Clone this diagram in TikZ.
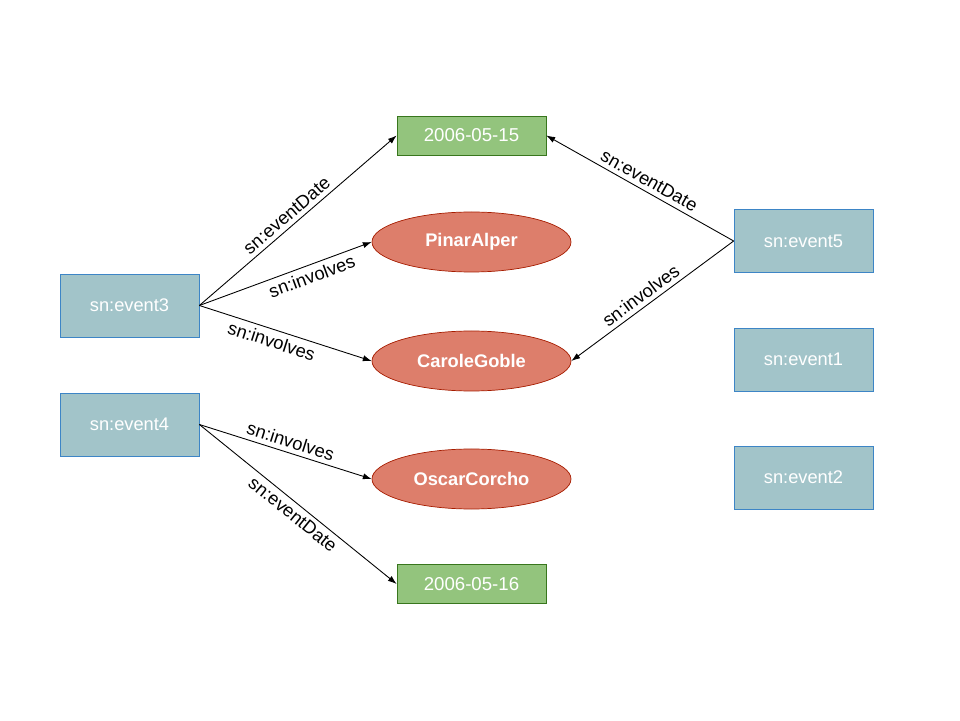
\documentclass[tikz,border=0pt]{standalone}
\usepackage{fontspec}
\setmainfont{Liberation Sans}
\usepackage{xcolor}
\usepackage{tikz}
\usetikzlibrary{shapes.geometric,arrows.meta,positioning}

\definecolor{evfill}{HTML}{A2C4C9}
\definecolor{evline}{HTML}{3D85C6}
\definecolor{dtfill}{HTML}{93C47D}
\definecolor{dtline}{HTML}{38761D}
\definecolor{psfill}{HTML}{DD7E6B}
\definecolor{psline}{HTML}{A61C00}

\begin{document}
\begin{tikzpicture}[
  evt/.style={draw=evline, fill=evfill, text=white, font=\fontsize{10.4}{12}\selectfont, minimum width=2.78cm, minimum height=1.26cm, inner sep=0pt},
  date/.style={draw=dtline, fill=dtfill, text=white, font=\fontsize{10.6}{12}\selectfont, minimum width=2.98cm, minimum height=0.78cm, inner sep=0pt},
  pers/.style={ellipse, draw=psline, fill=psfill, text=white, font=\fontsize{10.4}{12}\selectfont\bfseries, minimum width=3.98cm, minimum height=1.2cm, inner sep=0pt},
  lbl/.style={font=\fontsize{10.4}{12}\selectfont, sloped, inner sep=2.5pt},
  arr/.style={-{Latex[length=5pt,width=3.5pt]}, line width=0.5pt}
]
\useasboundingbox (0,0) rectangle (19.2,14.4);

% Events
\node[evt] (ev3) at (2.59, 8.29) {sn:event3};
\node[evt] (ev4) at (2.59, 5.91) {sn:event4};
\node[evt] (ev5) at (16.07, 9.58) {sn:event5};
\node[evt] (ev1) at (16.07, 7.21) {sn:event1};
\node[evt] (ev2) at (16.07, 4.85) {sn:event2};

% Dates
\node[date] (d15) at (9.43, 11.69) {2006-05-15};
\node[date] (d16) at (9.43, 2.72) {2006-05-16};

% People
\node[pers] (pinar) at (9.43, 9.56) {PinarAlper};
\node[pers] (carole) at (9.43, 7.18) {CaroleGoble};
\node[pers] (oscar) at (9.43, 4.82) {OscarCorcho};

% Properties
\draw[arr] (ev3.east) -- (d15.west) node[lbl, pos=0.48, above] {sn:eventDate};
\draw[arr] (ev3.east) -- (pinar.west) node[lbl, pos=0.63, below] {sn:involves};
\draw[arr] (ev3.east) -- (carole.west) node[lbl, pos=0.44, below] {sn:involves};
\draw[arr] (ev4.east) -- (oscar.west) node[lbl, pos=0.51, above] {sn:involves};
\draw[arr] (ev4.east) -- (d16.west) node[lbl, pos=0.51, below] {sn:eventDate};
\draw[arr] (ev5.west) -- (d15.east) node[lbl, pos=0.48, above] {sn:eventDate};
\draw[arr] (ev5.west) -- (carole.east) node[lbl, pos=0.53, above] {sn:involves};
\end{tikzpicture}
\end{document}
